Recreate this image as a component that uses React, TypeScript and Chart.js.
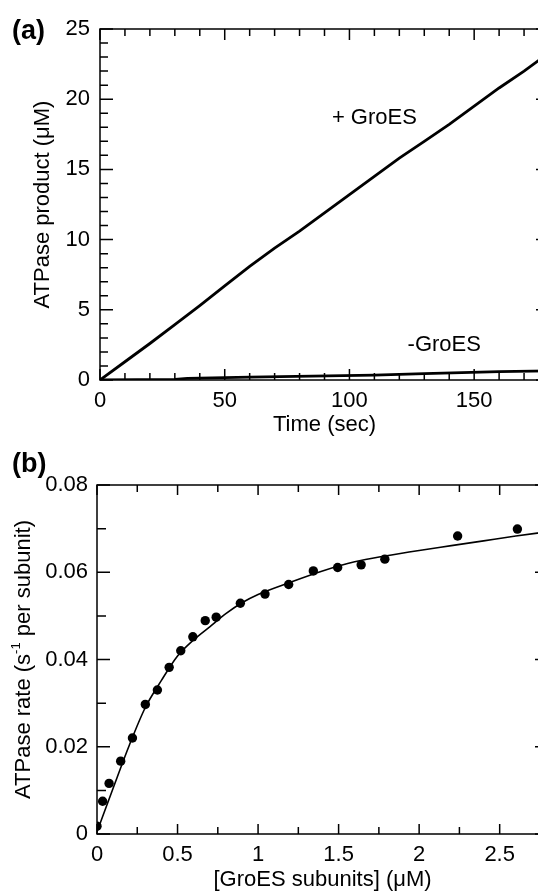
import React, { useEffect, useRef } from "react";
import { Chart, registerables } from "chart.js";
Chart.register(...registerables);

const FONT = "'Liberation Sans', Arial, Helvetica, sans-serif";

// ---------- Panel (a) data ----------
const timeSec = [0, 10, 20, 30, 40, 50, 60, 70, 80, 90, 100, 110, 120, 130, 140, 150, 160, 170, 180];
const plusGroES = [0, 1.3, 2.6, 3.95, 5.3, 6.7, 8.1, 9.4, 10.6, 11.9, 13.2, 14.5, 15.8, 17.0, 18.2, 19.5, 20.8, 22.0, 23.3];
const minusTimeSec = [0, 30, 35, 60, 110, 130, 160, 180];
const minusGroES = [0, 0.05, 0.12, 0.2, 0.35, 0.45, 0.6, 0.65];
const panelALabels = [
  { text: "+ GroES", x: 110, y: 18.7 },
  { text: "-GroES", x: 138, y: 2.5 },
];

// ---------- Panel (b) data ----------
const groesConc = [0, 0.035, 0.075, 0.147, 0.22, 0.3, 0.375, 0.448, 0.52, 0.595, 0.672, 0.74, 0.89, 1.043, 1.19, 1.343, 1.494, 1.64, 1.787, 2.239, 2.61];
const atpaseRate = [0.0018, 0.0075, 0.0116, 0.0167, 0.022, 0.0297, 0.033, 0.0382, 0.042, 0.0452, 0.0489, 0.0497, 0.0529, 0.055, 0.0572, 0.0603, 0.0611, 0.0617, 0.063, 0.0683, 0.0699];
const fitConc = [0, 0.1, 0.2, 0.3, 0.4, 0.5, 0.6, 0.7, 0.8, 0.9, 1.0, 1.2, 1.4, 1.6, 1.8, 2.0, 2.2, 2.4, 2.6, 2.8];
const fitRate = [0.0005, 0.0105, 0.0203, 0.029, 0.0352, 0.0408, 0.0445, 0.0475, 0.0505, 0.053, 0.0549, 0.0577, 0.0603, 0.0624, 0.0638, 0.065, 0.0661, 0.0672, 0.0683, 0.0693];

type Cfg = {
  xMinor: number; xMajorEvery: number; xMinorLen: number; xMajorLen: number;
  yMinor: number; yMajorEvery: number; yMinorLen: number; yMajorLen: number;
  labels?: { text: string; x: number; y: number }[];
  yTitle?: { x: number; parts: { t: string; size: number; dy: number }[] };
};

function framePlugin(cfg: Cfg) {
  return {
    id: "frameTicks",
    afterDraw(chart: any) {
      const { ctx, chartArea: a } = chart;
      const xs = chart.scales.x;
      const ys = chart.scales.y;
      ctx.save();
      ctx.strokeStyle = "#000";
      ctx.lineWidth = 1.5;
      ctx.strokeRect(a.left, a.top, a.right - a.left, a.bottom - a.top);
      ctx.beginPath();
      const nx = Math.floor((xs.max - xs.min) / cfg.xMinor + 1e-6);
      for (let i = 0; i <= nx; i++) {
        const v = xs.min + i * cfg.xMinor;
        const L = i % cfg.xMajorEvery === 0 ? cfg.xMajorLen : cfg.xMinorLen;
        const p = xs.getPixelForValue(v);
        ctx.moveTo(p, a.bottom);
        ctx.lineTo(p, a.bottom - L);
        ctx.moveTo(p, a.top);
        ctx.lineTo(p, a.top + L);
      }
      const ny = Math.floor((ys.max - ys.min) / cfg.yMinor + 1e-6);
      for (let i = 0; i <= ny; i++) {
        const v = ys.min + i * cfg.yMinor;
        const L = i % cfg.yMajorEvery === 0 ? cfg.yMajorLen : cfg.yMinorLen;
        const p = ys.getPixelForValue(v);
        ctx.moveTo(a.left, p);
        ctx.lineTo(a.left + L, p);
        ctx.moveTo(a.right, p);
        ctx.lineTo(a.right - L, p);
      }
      ctx.stroke();
      ctx.fillStyle = "#000";
      if (cfg.labels) {
        ctx.font = `22px ${FONT}`;
        ctx.textAlign = "center";
        ctx.textBaseline = "middle";
        for (const l of cfg.labels) {
          ctx.fillText(l.text, xs.getPixelForValue(l.x), ys.getPixelForValue(l.y));
        }
      }
      if (cfg.yTitle) {
        const cy = (a.top + a.bottom) / 2;
        ctx.translate(cfg.yTitle.x, cy);
        ctx.rotate(-Math.PI / 2);
        ctx.textAlign = "left";
        ctx.textBaseline = "middle";
        let total = 0;
        for (const p of cfg.yTitle.parts) {
          ctx.font = `${p.size}px ${FONT}`;
          total += ctx.measureText(p.t).width;
        }
        let x = -total / 2;
        for (const p of cfg.yTitle.parts) {
          ctx.font = `${p.size}px ${FONT}`;
          ctx.fillText(p.t, x, p.dy);
          x += ctx.measureText(p.t).width;
        }
      }
      ctx.restore();
    },
  };
}

const tickFont = { family: FONT, size: 22 };

function PanelA() {
  const ref = useRef<HTMLCanvasElement>(null);
  useEffect(() => {
    const chart = new Chart(ref.current as HTMLCanvasElement, {
      type: "line",
      data: {
        datasets: [
          {
            data: timeSec.map((t, i) => ({ x: t, y: plusGroES[i] })),
            borderColor: "#000",
            borderWidth: 2.8,
            pointRadius: 0,
            tension: 0,
          },
          {
            data: minusTimeSec.map((t, i) => ({ x: t, y: minusGroES[i] })),
            borderColor: "#000",
            borderWidth: 2.8,
            pointRadius: 0,
            tension: 0,
          },
        ],
      },
      options: {
        animation: false,
        responsive: false,
        events: [],
        layout: { padding: { top: 29, right: 11, left: 0, bottom: 0 } },
        plugins: { legend: { display: false }, tooltip: { enabled: false } },
        scales: {
          x: {
            type: "linear",
            min: 0,
            max: 180,
            ticks: { stepSize: 50, includeBounds: false, color: "#000", font: tickFont, padding: 8, maxRotation: 0, autoSkip: false },
            grid: { display: false, drawTicks: false },
            border: { display: false },
            title: { display: true, text: "Time (sec)", color: "#000", font: tickFont, padding: { top: 0, bottom: 7 } },
            afterFit: (s: any) => { s.height = 65; },
          },
          y: {
            type: "linear",
            min: 0,
            max: 25,
            ticks: { stepSize: 5, color: "#000", font: tickFont, padding: 10 },
            grid: { display: false, drawTicks: false },
            border: { display: false },
            title: { display: true, text: "ATPase product (μM)", color: "#000", font: tickFont, padding: { top: 30, bottom: 0 } },
            afterFit: (s: any) => { s.width = 100; },
          },
        },
      } as any,
      plugins: [
        framePlugin({
          xMinor: 10, xMajorEvery: 5, xMinorLen: 7, xMajorLen: 11,
          yMinor: 1, yMajorEvery: 5, yMinorLen: 8, yMajorLen: 13,
          labels: panelALabels,
        }) as any,
      ],
    });
    return () => chart.destroy();
  }, []);
  return (
    <canvas
      ref={ref}
      width={560}
      height={445}
      style={{ position: "absolute", left: 0, top: 0, width: 560, height: 445 }}
    />
  );
}

function PanelB() {
  const ref = useRef<HTMLCanvasElement>(null);
  useEffect(() => {
    const chart = new Chart(ref.current as HTMLCanvasElement, {
      type: "scatter",
      data: {
        datasets: [
          {
            data: fitConc.map((c, i) => ({ x: c, y: fitRate[i] })),
            showLine: true,
            borderColor: "#000",
            borderWidth: 1.6,
            pointRadius: 0,
            cubicInterpolationMode: "monotone",
          },
          {
            data: groesConc.map((c, i) => ({ x: c, y: atpaseRate[i] })),
            showLine: false,
            pointRadius: 4.7,
            pointBackgroundColor: "#000",
            pointBorderWidth: 0,
            borderColor: "#000",
          },
        ],
      },
      options: {
        animation: false,
        responsive: false,
        events: [],
        layout: { padding: { top: 40, right: 12, left: 0, bottom: 0 } },
        plugins: { legend: { display: false }, tooltip: { enabled: false } },
        scales: {
          x: {
            type: "linear",
            min: 0,
            max: 2.8,
            ticks: {
              stepSize: 0.5, includeBounds: false, color: "#000", font: tickFont, padding: 8, maxRotation: 0, autoSkip: false,
              callback: (v: any) => String(Number(Number(v).toFixed(2))),
            },
            grid: { display: false, drawTicks: false },
            border: { display: false },
            title: { display: true, text: "[GroES subunits] (μM)", color: "#000", font: tickFont, padding: { top: 0, bottom: 4 } },
            afterFit: (s: any) => { s.height = 63; },
          },
          y: {
            type: "linear",
            min: 0,
            max: 0.08,
            ticks: {
              stepSize: 0.02, color: "#000", font: tickFont, padding: 9,
              callback: (v: any) => (Math.abs(v) < 1e-9 ? "0" : Number(v).toFixed(2)),
            },
            grid: { display: false, drawTicks: false },
            border: { display: false },
            title: { display: false },
            afterFit: (s: any) => { s.width = 97; },
          },
        },
      } as any,
      plugins: [
        framePlugin({
          xMinor: 0.25, xMajorEvery: 2, xMinorLen: 7, xMajorLen: 10,
          yMinor: 0.01, yMajorEvery: 2, yMinorLen: 9, yMajorLen: 13,
          yTitle: {
            x: 24,
            parts: [
              { t: "ATPase rate (s", size: 22, dy: 0 },
              { t: "-1", size: 13, dy: -8 },
              { t: " per subunit)", size: 22, dy: 0 },
            ],
          },
        }) as any,
      ],
    });
    return () => chart.destroy();
  }, []);
  return (
    <canvas
      ref={ref}
      width={560}
      height={452}
      style={{ position: "absolute", left: 0, top: 445, width: 560, height: 452 }}
    />
  );
}

const panelLabelStyle: React.CSSProperties = {
  position: "absolute",
  left: 12,
  fontFamily: FONT,
  fontWeight: "bold",
  fontSize: 27,
  lineHeight: 1,
  color: "#000",
};

export default function App() {
  return (
    <div
      style={{
        position: "fixed",
        left: 0,
        top: 0,
        width: 538,
        height: 892,
        overflow: "hidden",
        background: "#fff",
      }}
    >
      <PanelA />
      <PanelB />
      <div style={{ ...panelLabelStyle, top: 17 }}>(a)</div>
      <div style={{ ...panelLabelStyle, top: 450 }}>(b)</div>
    </div>
  );
}
